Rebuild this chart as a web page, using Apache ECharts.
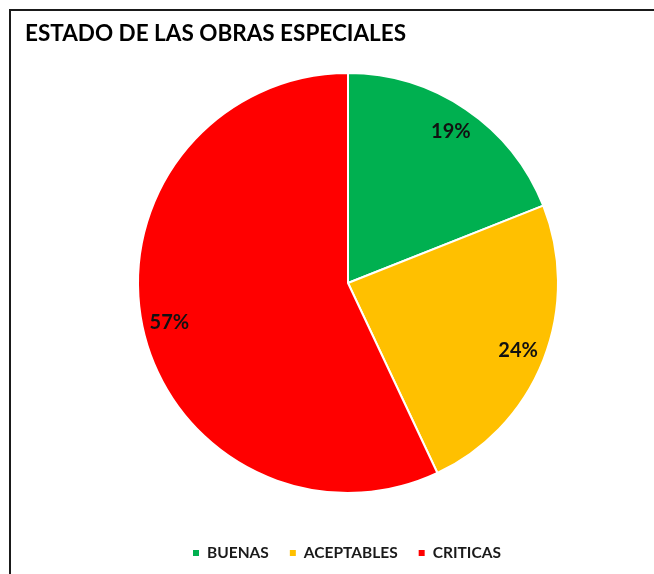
<!DOCTYPE html>
<html>
<head>
<meta charset="utf-8">
<script src="https://cdn.jsdelivr.net/npm/echarts@6/dist/echarts.min.js"></script>
<style>html,body{margin:0;padding:0;background:#fff;}#c{width:654px;height:574px;}</style>
</head>
<body>
<div id="c"></div>
<script>
var categories = ['BUENAS', 'ACEPTABLES', 'CRITICAS'];
var values = [19, 24, 57];
var colors = ['#00B050', '#FFC000', '#FF0000'];

var chart = echarts.init(document.getElementById('c'));
var data = categories.map(function (n, i) {
  return { name: n, value: values[i], itemStyle: { color: colors[i] } };
});
var font = 'Lato, "Open Sans", sans-serif';
chart.setOption({
  animation: false,
  graphic: [{
    type: 'rect', shape: { x: 10, y: 10, width: 800, height: 800 },
    style: { fill: 'none', stroke: '#1a1a1a', lineWidth: 2 }, z: 100
  }],
  title: {
    text: 'ESTADO DE LAS OBRAS ESPECIALES', left: 20, top: 17,
    textStyle: { fontFamily: font, fontWeight: 'bold', fontSize: 22.5, color: '#000' }
  },
  legend: {
    bottom: 8, left: 186, icon: 'rect', itemWidth: 8, itemHeight: 8, itemGap: 19,
    textStyle: { fontFamily: font, fontWeight: 'bold', fontSize: 15.5, color: '#1a1a1a', padding: [0, 0, 0, 2] },
    data: categories
  },
  series: [{
    type: 'pie', center: [348, 283], radius: [0, 210], startAngle: 90, clockwise: true,
    itemStyle: { borderColor: '#fff', borderWidth: 2 },
    label: { show: false }, labelLine: { show: false }, silent: true,
    data: data
  }, {
    type: 'pie', center: [348, 283], radius: [150, 210], startAngle: 90, clockwise: true,
    itemStyle: { color: 'rgba(0,0,0,0)', borderWidth: 0 },
    label: { show: true, position: 'inside', formatter: '{d}%', fontFamily: font, fontWeight: 'bold', fontSize: 20, color: '#111' },
    labelLine: { show: false }, silent: true,
    data: categories.map(function (n, i) { return { name: n, value: values[i], itemStyle: { color: 'rgba(0,0,0,0)' } }; })
  }]
});
</script>
</body>
</html>
